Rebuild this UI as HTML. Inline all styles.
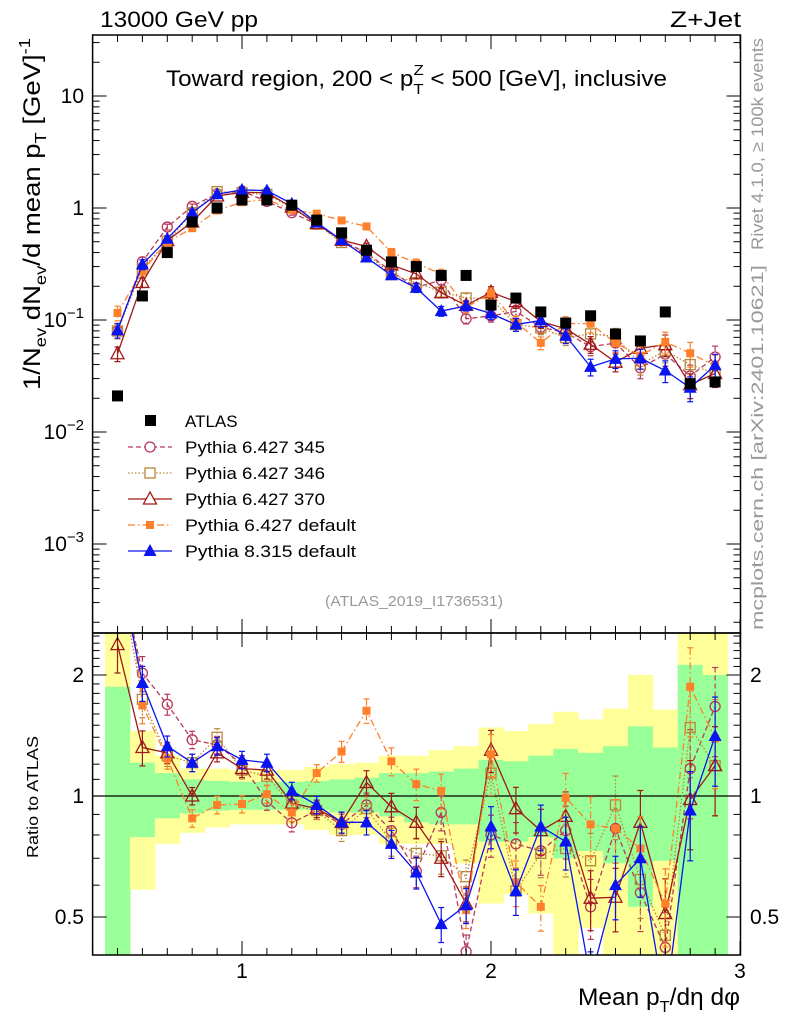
<!DOCTYPE html>
<html><head><meta charset="utf-8"><style>
body{margin:0;background:#fff}
svg{display:block;font-family:"Liberation Sans",sans-serif}
</style></head><body>
<svg id="c" width="786" height="1024" xmlns="http://www.w3.org/2000/svg"></svg>
<script>
const xs=[0.5,0.6,0.7,0.8,0.9,1.0,1.1,1.2,1.3,1.4,1.5,1.6,1.7,1.8,1.9,2.0,2.1,2.2,2.3,2.4,2.5,2.6,2.7,2.8,2.9];
const atlas=[0.021,0.164,0.40,0.75,1.0,1.18,1.18,1.06,0.78,0.60,0.42,0.33,0.30,0.25,0.25,0.136,0.157,0.118,0.094,0.109,0.075,0.065,0.118,0.027,0.028];
const r345=[3.8,2.02,1.69,1.38,1.34,1.20,0.97,0.857,0.92,0.85,0.95,0.82,0.65,0.91,0.41,0.80,0.76,0.73,0.82,0.53,0.83,0.575,0.42,1.17,1.67];
const r346=[3.8,1.74,1.26,1.21,1.40,1.16,1.12,0.95,0.92,0.82,0.93,0.77,0.72,0.71,0.63,1.14,0.58,0.72,0.74,0.69,0.95,0.62,0.45,1.48,1.19];
const r370=[2.38,1.32,1.28,1.0,1.28,1.17,1.16,0.96,0.93,0.86,1.08,0.94,0.86,0.70,0.54,1.30,0.93,0.82,0.89,0.557,0.56,0.86,0.51,0.98,1.19];
const r6def=[5.5,1.68,1.24,0.88,0.95,0.955,1.01,0.91,1.14,1.29,1.63,1.22,1.07,1.03,0.52,1.27,0.61,0.53,0.99,0.85,0.83,0.74,0.54,1.87,1.39];
const r8def=[3.86,1.91,1.33,1.21,1.33,1.23,1.21,1.03,0.95,0.86,0.86,0.76,0.645,0.48,0.535,0.84,0.58,0.84,0.77,0.35,0.60,0.70,0.30,0.92,1.41];
const relErr=[0.15,0.1,0.06,0.05,0.05,0.05,0.05,0.05,0.05,0.06,0.07,0.08,0.09,0.1,0.1,0.12,0.13,0.13,0.15,0.17,0.18,0.2,0.22,0.25,0.25];
const bandGreenHi=[1.87,1.21,1.14,1.10,1.09,1.085,1.085,1.085,1.09,1.10,1.11,1.14,1.14,1.15,1.17,1.23,1.22,1.26,1.31,1.28,1.33,1.49,1.32,2.12,2.0];
const bandGreenLo=[0.3,0.79,0.88,0.905,0.92,0.924,0.924,0.924,0.924,0.91,0.91,0.89,0.86,0.85,0.85,0.77,0.77,0.79,0.70,0.73,0.68,0.53,0.69,0.3,0.3];
const bandYelHi=[3,1.45,1.26,1.17,1.17,1.16,1.16,1.16,1.18,1.20,1.21,1.26,1.26,1.30,1.33,1.48,1.45,1.51,1.62,1.55,1.65,2.0,1.64,3,3];
const bandYelLo=[0.3,0.585,0.76,0.81,0.835,0.85,0.85,0.85,0.824,0.80,0.80,0.76,0.76,0.76,0.68,0.54,0.57,0.51,0.3,0.47,0.3,0.3,0.3,0.3,0.3];
const mainTicks=["10\u207B\u00B3","10\u207B\u00B2","10\u207B\u00B9","1","10"];
const xTickLabels=["1","2","3"];

const L=92.6,R=740.5,T=35,MB=633,RB=955;
const X=v=>L+(v-0.4)*249;
const Y=v=>208-112*Math.log10(v);
const YR=v=>796-402*Math.log10(v);
const svg=document.getElementById('c');
const NS='http://www.w3.org/2000/svg';
function mk(tag,at,parent){const e=document.createElementNS(NS,tag);for(const k in at)e.setAttribute(k,at[k]);(parent||svg).appendChild(e);return e;}
const defs=mk('defs',{});
const c1=mk('clipPath',{id:'cm'},defs);mk('rect',{x:L,y:T,width:R-L,height:MB-T},c1);
const c2=mk('clipPath',{id:'cr'},defs);mk('rect',{x:L,y:MB,width:R-L,height:RB-MB},c2);
const gM=mk('g',{'clip-path':'url(#cm)'});

const gR=mk('g',{'clip-path':'url(#cr)'});


xs.forEach((x,i)=>{
  const x0=X(x-0.05),w=249*0.1;
  const yb=mk('rect',{x:x0,y:YR(bandYelHi[i]),width:w+0.5,height:YR(bandYelLo[i])-YR(bandYelHi[i]),fill:'#ffff99'},gR);
  
  const gb=mk('rect',{x:x0,y:YR(bandGreenHi[i]),width:w+0.5,height:YR(bandGreenLo[i])-YR(bandGreenHi[i]),fill:'#99ff99'},gR);
  
});
mk('line',{x1:L,x2:R,y1:YR(1),y2:YR(1),stroke:'#000','stroke-width':1.3},gR);

function marker(g,type,col,x,y){
  let e;
  if(type==='csq'){e=mk('rect',{x:x-5.5,y:y-5.5,width:11,height:11,fill:'#000'},g);}
  else if(type==='circ'){e=mk('circle',{cx:x,cy:y,r:5,fill:'none',stroke:col,'stroke-width':1.3},g);}
  else if(type==='osq'){e=mk('rect',{x:x-5,y:y-5,width:10,height:10,fill:'none',stroke:col,'stroke-width':1.3},g);}
  else if(type==='otri'){e=mk('polygon',{points:`${x},${y-7} ${x-6.5},${y+5} ${x+6.5},${y+5}`,fill:'none',stroke:col,'stroke-width':1.3},g);}
  else if(type==='fsq'){e=mk('rect',{x:x-4,y:y-4,width:8,height:8,fill:col},g);}
  else if(type==='ftri'){e=mk('polygon',{points:`${x},${y-7} ${x-6.5},${y+5} ${x+6.5},${y+5}`,fill:col},g);}
  return e;
}
const series=[
 {name:'pythia-6427-345',r:r345,col:'#b8385a',type:'circ',dash:'5,3'},
 {name:'pythia-6427-346',r:r346,col:'#b8863b',type:'osq',dash:'1.5,2'},
 {name:'pythia-6427-370',r:r370,col:'#a01818',type:'otri',dash:''},
 {name:'pythia-6427-default',r:r6def,col:'#ff7f2a',type:'fsq',dash:'7,3,1.5,3'},
 {name:'pythia-8315-default',r:r8def,col:'#0a14f0',type:'ftri',dash:''}
];
series.forEach(s=>{
  [[gM,i=>Y(s.r[i]*atlas[i])],[gR,i=>YR(s.r[i])]].forEach(([g,fy],pi)=>{
    const pts=xs.map((x,i)=>X(x)+','+fy(i)).join(' ');
    const pl=mk('polyline',{points:pts,fill:'none',stroke:s.col,'stroke-width':1.3,'stroke-dasharray':s.dash},g);
    
    xs.forEach((x,i)=>{
      const v=s.r[i]*(pi===0?atlas[i]:1);const f=pi===0?Y:YR;
      const e=relErr[i];
      mk('line',{x1:X(x),x2:X(x),y1:f(v*(1+e)),y2:f(v*(1-e)),stroke:s.col,'stroke-width':1.2,'stroke-dasharray':s.dash},g);
      mk('line',{x1:X(x)-3,x2:X(x)+3,y1:f(v*(1+e)),y2:f(v*(1+e)),stroke:s.col,'stroke-width':1.2},g);
      mk('line',{x1:X(x)-3,x2:X(x)+3,y1:f(v*(1-e)),y2:f(v*(1-e)),stroke:s.col,'stroke-width':1.2},g);
      const m=marker(g,s.type,s.col,X(x),f(v));
      
      
    });
  });
});
xs.forEach((x,i)=>{
  const m=marker(gM,'csq','#000',X(x),Y(atlas[i]));
  
  
});

mk('rect',{x:L,y:T,width:R-L,height:MB-T,fill:'none',stroke:'#000','stroke-width':1.5});
mk('rect',{x:L,y:MB,width:R-L,height:RB-MB,fill:'none',stroke:'#000','stroke-width':1.5});
for(let k=4;k<=30;k++){
  const v=k/10,x=X(v),maj=(k%10===0),len=maj?14:7;
  [[T,1],[MB,-1],[MB,1],[RB,-1]].forEach(([y,d])=>mk('line',{x1:x,x2:x,y1:y,y2:y+d*len,stroke:'#000','stroke-width':1}));
}
xTickLabels.forEach((t,i)=>{const e=mk('text',{x:X(i+1),y:978,'font-size':21,'text-anchor':'middle'});e.textContent=t;
  });
for(let d=-4;d<=1;d++){for(let m=1;m<10;m++){const v=m*Math.pow(10,d),y=Y(v);if(y<T||y>MB)continue;
  const len=m===1?14:7;mk('line',{x1:L,x2:L+len,y1:y,y2:y,stroke:'#000'});mk('line',{x1:R,x2:R-len,y1:y,y2:y,stroke:'#000'});}}
mainTicks.forEach((t,i)=>{const v=Math.pow(10,i-3);const e=mk('text',{x:84,y:Y(v)+7,'font-size':21,'text-anchor':'end'});
  if(i<3){e.textContent='10';const s=mk('tspan',{dy:-9,'font-size':15},e);s.textContent=['\u22123','\u22122','\u22121'][i];}else e.textContent=t;
  });
[0.5,0.6,0.7,0.8,0.9,1,1.1,1.2,1.3,1.4,1.5,1.6,1.7,1.8,1.9,2,2.1,2.2,2.3,2.4,2.5].forEach(v=>{const y=YR(v);const maj=(v===0.5||v===1||v===2);const len=maj?14:7;
  mk('line',{x1:L,x2:L+len,y1:y,y2:y,stroke:'#000'});mk('line',{x1:R,x2:R-len,y1:y,y2:y,stroke:'#000'});});
[['0.5',0.5],['1',1],['2',2]].forEach(([t,v])=>{
  let e=mk('text',{x:84,y:YR(v)+7,'font-size':21,'text-anchor':'end'});e.textContent=t;
  
  e=mk('text',{x:750,y:YR(v)+7,'font-size':21});e.textContent=t;
  });
</script>
<svg width="786" height="1024" style="position:absolute;left:0;top:0" xmlns="http://www.w3.org/2000/svg" font-family="Liberation Sans, sans-serif">
<text x="100" y="27" font-size="22" textLength="158" lengthAdjust="spacingAndGlyphs">13000 GeV pp</text>
<text x="670" y="27" font-size="22" textLength="71" lengthAdjust="spacingAndGlyphs">Z+Jet</text>
<text x="166" y="86" font-size="22" textLength="501" lengthAdjust="spacingAndGlyphs">Toward region, 200 &lt; p<tspan dy="8" font-size="15">T</tspan><tspan dx="-9" dy="-19" font-size="15">Z</tspan><tspan dy="11"> &lt; 500 [GeV], inclusive</tspan></text>
<text x="414" y="606" font-size="15" fill="#999" text-anchor="middle" textLength="178" lengthAdjust="spacingAndGlyphs">(ATLAS_2019_I1736531)</text>
<text transform="translate(763,250) rotate(-90)" font-size="17" fill="#999" textLength="212" lengthAdjust="spacingAndGlyphs">Rivet 4.1.0, ≥ 100k events</text>
<text transform="translate(763,630) rotate(-90)" font-size="17" fill="#999" textLength="365" lengthAdjust="spacingAndGlyphs">mcplots.cern.ch [arXiv:2401.10621]</text>
<text transform="translate(40,390) rotate(-90)" font-size="24" textLength="352" lengthAdjust="spacingAndGlyphs">1/N<tspan dy="6" font-size="16">ev</tspan><tspan dy="-6"> dN</tspan><tspan dy="6" font-size="16">ev</tspan><tspan dy="-6">/d mean p</tspan><tspan dy="6" font-size="16">T</tspan><tspan dy="-6"> [GeV]</tspan><tspan dy="-10" font-size="16">-1</tspan></text>
<text transform="translate(38,858) rotate(-90)" font-size="16" textLength="122" lengthAdjust="spacingAndGlyphs">Ratio to ATLAS</text>
<text x="578" y="1005" font-size="24" textLength="162" lengthAdjust="spacingAndGlyphs">Mean p<tspan dy="7" font-size="16">T</tspan><tspan dy="-7">/dη dφ</tspan></text>
<g font-size="17">
<rect x="145" y="415" width="11" height="11" fill="#000"/>
<text x="185" y="427">ATLAS</text>
<line x1="128" x2="172" y1="447" y2="447" stroke="#b8385a" stroke-dasharray="5,3" stroke-width="1.3"/><circle cx="150" cy="447" r="5" fill="#fff" stroke="#b8385a" stroke-width="1.3"/>
<text x="185" y="453" textLength="140" lengthAdjust="spacingAndGlyphs">Pythia 6.427 345</text>
<line x1="128" x2="172" y1="473" y2="473" stroke="#b8863b" stroke-dasharray="1.5,2" stroke-width="1.3"/><rect x="145" y="468" width="10" height="10" fill="#fff" stroke="#b8863b" stroke-width="1.3"/>
<text x="185" y="479" textLength="140" lengthAdjust="spacingAndGlyphs">Pythia 6.427 346</text>
<line x1="128" x2="172" y1="499" y2="499" stroke="#a01818" stroke-width="1.3"/><polygon points="150,492 143.5,504 156.5,504" fill="#fff" stroke="#a01818" stroke-width="1.3"/>
<text x="185" y="505" textLength="140" lengthAdjust="spacingAndGlyphs">Pythia 6.427 370</text>
<line x1="128" x2="172" y1="525" y2="525" stroke="#ff7f2a" stroke-dasharray="7,3,1.5,3" stroke-width="1.3"/><rect x="146" y="521" width="8" height="8" fill="#ff7f2a"/>
<text x="185" y="531" textLength="171" lengthAdjust="spacingAndGlyphs">Pythia 6.427 default</text>
<line x1="128" x2="172" y1="551" y2="551" stroke="#0a14f0" stroke-width="1.3"/><polygon points="150,544 143.5,556 156.5,556" fill="#0a14f0"/>
<text x="185" y="557" textLength="171" lengthAdjust="spacingAndGlyphs">Pythia 8.315 default</text>
</g>
</svg>
</body></html>
